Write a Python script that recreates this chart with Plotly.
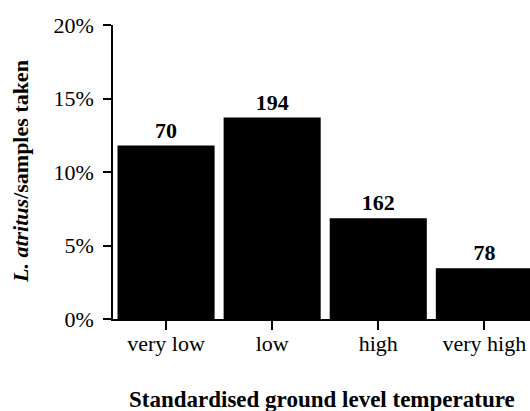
import plotly.graph_objects as go

categories = ["very low", "low", "high", "very high"]
rates = [11.8, 13.7, 6.85, 3.45]
counts = ["70", "194", "162", "78"]
y_ticks = [0, 5, 10, 15, 20]
y_tick_labels = ["0%", "5%", "10%", "15%", "20%"]

FONT = "Liberation Serif, Times New Roman, serif"

fig = go.Figure(go.Bar(
    x=list(range(len(categories))),
    y=rates,
    text=["<b>%s</b>" % c for c in counts],
    textposition="outside",
    textfont=dict(family=FONT, size=22, color="black"),
    marker=dict(color="black", line=dict(width=0)),
    cliponaxis=False,
))

fig.update_layout(
    width=530, height=411,
    margin=dict(l=113, r=0, t=25, b=92),
    paper_bgcolor="white", plot_bgcolor="white",
    bargap=0.085,
    showlegend=False,
    font=dict(family=FONT, size=21, color="black"),
    xaxis=dict(
        range=[-0.5, 3.43],
        tickmode="array",
        tickvals=list(range(len(categories))),
        ticktext=categories,
        ticks="outside", ticklen=9, tickwidth=1.5, tickcolor="black",
        showline=True, linecolor="black", linewidth=1.5,
        showgrid=False, zeroline=False,
        ticklabelstandoff=-5,
        tickfont=dict(family=FONT, size=22, color="black"),
    ),
    yaxis=dict(
        range=[0, 20],
        tickmode="array",
        tickvals=y_ticks,
        ticktext=y_tick_labels,
        ticks="outside", ticklen=8, tickwidth=1.5, tickcolor="black",
        showline=True, linecolor="black", linewidth=1.5,
        showgrid=False, zeroline=False,
        ticklabelstandoff=5,
        tickfont=dict(family=FONT, size=22, color="black"),
    ),
    annotations=[
        dict(
            text="<b>Standardised ground level temperature</b>",
            xref="paper", yref="paper", x=0.5, y=-0.275,
            xanchor="center", yanchor="middle", showarrow=False,
            font=dict(family=FONT, size=23, color="black"),
        ),
        dict(
            text="<b><i>L. atritus</i>/samples taken</b>",
            xref="paper", yref="paper", x=-0.223, y=0.5,
            xanchor="center", yanchor="middle", showarrow=False, textangle=-90,
            font=dict(family=FONT, size=22, color="black"),
        ),
    ],
)

fig.write_html("out.html")
